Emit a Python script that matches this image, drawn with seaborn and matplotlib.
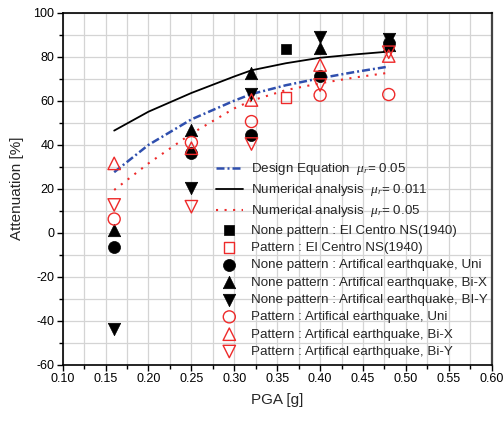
import numpy as np
import pandas as pd
import matplotlib
matplotlib.use("Agg")
import matplotlib.pyplot as plt
import seaborn as sns
from matplotlib.ticker import MultipleLocator

# ---- data ----
curve_x = [0.16, 0.20, 0.25, 0.30, 0.32, 0.36, 0.40, 0.44, 0.48]
design_y = [27.5, 39.9, 51.5, 60.0, 63.0, 67.0, 70.2, 73.0, 75.5]
num011_y = [46.4, 55.0, 63.5, 71.0, 73.8, 77.0, 79.5, 81.0, 82.3]
num05_y = [19.4, 31.5, 45.0, 56.5, 60.0, 64.8, 67.9, 70.5, 72.7]

elc_x = [0.36]
none_elc_y = [83.5]
pat_elc_y = [61.5]

art_x = [0.16, 0.25, 0.32, 0.40, 0.48]
none_uni_y = [-6.4, 36.0, 44.4, 71.0, 86.0]
none_bix_y = [1.2, 46.5, 72.5, 83.8, 85.5]
none_biy_y = [-43.8, 20.5, 63.0, 89.0, 88.0]
pat_uni_y = [6.2, 41.0, 50.5, 62.5, 62.8]
pat_bix_y = [31.5, 38.4, 60.3, 76.2, 80.3]
pat_biy_y = [12.6, 11.8, 40.3, 67.1, 82.0]

labels = [
    r"Design Equation  $\mu_r$= 0.05",
    r"Numerical analysis  $\mu_r$= 0.011",
    r"Numerical analysis  $\mu_r$= 0.05",
    "None pattern : El Centro NS(1940)",
    "Pattern : El Centro NS(1940)",
    "None pattern : Artifical earthquake, Uni",
    "None pattern : Artifical earthquake, Bi-X",
    "None pattern : Artifical earthquake, BI-Y",
    "Pattern : Artifical earthquake, Uni",
    "Pattern : Artifical earthquake, Bi-X",
    "Pattern : Artifical earthquake, Bi-Y",
]

BLUE = "#2f4fae"
RED = "#ee2a2a"

sns.set_theme(style="white")
plt.rcParams["font.family"] = ["Liberation Sans", "DejaVu Sans"]
plt.rcParams["mathtext.fontset"] = "custom"
plt.rcParams["mathtext.it"] = "Liberation Serif:italic"
plt.rcParams["mathtext.rm"] = "Liberation Sans"
plt.rcParams["axes.unicode_minus"] = False

fig = plt.figure(figsize=(5.04, 4.22), dpi=100)
ax = fig.add_axes([0.1244, 0.1358, 0.8512, 0.8342])

sns.lineplot(x=curve_x, y=design_y, ax=ax, color=BLUE, lw=1.8, label=labels[0])
ax.lines[-1].set_linestyle((0, (3.2, 1.2, 0.8, 1.2)))
sns.lineplot(x=curve_x, y=num011_y, ax=ax, color="black", lw=1.3, label=labels[1])
sns.lineplot(x=curve_x, y=num05_y, ax=ax, color=RED, lw=1.5, label=labels[2])
ax.lines[-1].set_linestyle((0, (1, 3.1)))

def filled(x, y, marker, label, s):
    sns.scatterplot(x=x, y=y, ax=ax, marker=marker, color="black",
                    edgecolor="black", linewidth=0.5, s=s, label=label, zorder=3)

def opened(x, y, marker, label, s):
    sns.scatterplot(x=x, y=y, ax=ax, marker=marker, facecolors="none",
                    edgecolor=RED, linewidth=1.0, s=s, label=label, zorder=3)

filled(elc_x, none_elc_y, "s", labels[3], 55)
opened(elc_x, pat_elc_y, "s", labels[4], 55)
filled(art_x, none_uni_y, "o", labels[5], 75)
filled(art_x, none_bix_y, "^", labels[6], 80)
filled(art_x, none_biy_y, "v", labels[7], 80)
opened(art_x, pat_uni_y, "o", labels[8], 75)
opened(art_x, pat_bix_y, "^", labels[9], 80)
opened(art_x, pat_biy_y, "v", labels[10], 80)

ax.set_xlim(0.10, 0.60)
ax.set_ylim(-60, 100)
ax.xaxis.set_major_locator(MultipleLocator(0.05))
ax.xaxis.set_minor_locator(MultipleLocator(0.025))
ax.yaxis.set_major_locator(MultipleLocator(20))
ax.yaxis.set_minor_locator(MultipleLocator(10))
ax.xaxis.set_major_formatter(matplotlib.ticker.FormatStrFormatter("%.2f"))
ax.grid(True, which="both", color="#d4d4d4", lw=0.9)
ax.set_axisbelow(True)
ax.tick_params(which="both", direction="out", bottom=True, left=True,
               top=False, right=False, labelsize=9, colors="black", pad=2)
ax.tick_params(which="major", length=4, width=1)
ax.tick_params(which="minor", length=3, width=1)
for side, sp in ax.spines.items():
    sp.set_color("black")
    sp.set_linewidth(1.2)
ax.spines["right"].set_color("#444444")
ax.spines["right"].set_linewidth(1.6)

ax.set_xlabel("PGA [g]", fontsize=11, labelpad=6)
ax.set_ylabel("Attenuation [%]", fontsize=11, labelpad=7)

leg = ax.legend(loc="lower right", bbox_to_anchor=(1.007, 0.0), frameon=False,
                fontsize=9.6, handlelength=2.0, handletextpad=0.65,
                labelspacing=0.375, scatterpoints=1, borderaxespad=0.2,
                borderpad=0.3)

fig.savefig("out.png", dpi=100)
